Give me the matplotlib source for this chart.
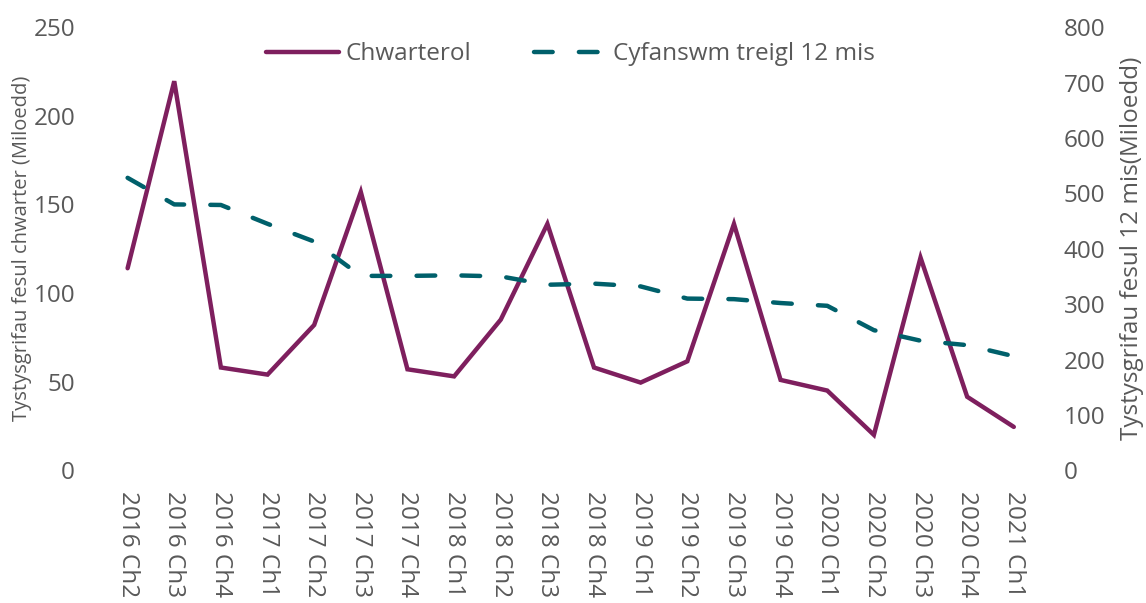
import matplotlib
matplotlib.use("Agg")
import matplotlib.pyplot as plt

quarters = ["2016 Ch2", "2016 Ch3", "2016 Ch4", "2017 Ch1", "2017 Ch2", "2017 Ch3",
            "2017 Ch4", "2018 Ch1", "2018 Ch2", "2018 Ch3", "2018 Ch4", "2019 Ch1",
            "2019 Ch2", "2019 Ch3", "2019 Ch4", "2020 Ch1", "2020 Ch2", "2020 Ch3",
            "2020 Ch4", "2021 Ch1"]
chwarterol = [114, 219.5, 58, 54, 82, 157, 57, 53, 85, 139, 58, 49.5,
              61.5, 139, 51, 45, 20, 120, 41.5, 24.5]
cyfanswm = [528, 480, 479, 445, 413, 351, 351, 352, 350, 335, 337, 332,
            310, 309, 302, 297, 253, 234, 226, 206]

purple = "#7E1F5E"
teal = "#00606B"
grey = "#595959"

plt.rcParams['font.family'] = ['Open Sans', 'DejaVu Sans']

fig, ax = plt.subplots(figsize=(11.46, 6.03), dpi=100)
fig.subplots_adjust(left=0.091, right=0.905, top=0.955, bottom=0.22)
ax2 = ax.twinx()

x = list(range(len(quarters)))
l1, = ax.plot(x, chwarterol, color=purple, lw=3.2, solid_joinstyle='miter',
              solid_capstyle='round', label="Chwarterol")
l2, = ax2.plot(x, cyfanswm, color=teal, lw=3.2, dashes=(4.2, 5.9),
               dash_capstyle='round', label="Cyfanswm treigl 12 mis")

ax.set_xlim(-0.5, len(quarters) - 0.5)
ax.set_ylim(0, 250)
ax2.set_ylim(0, 800)
ax.set_yticks(range(0, 251, 50))
ax2.set_yticks(range(0, 801, 100))
ax.set_xticks(x)
ax.set_xticklabels(quarters, rotation=270, fontsize=17.5, color=grey)

for a in (ax, ax2):
    for s in a.spines.values():
        s.set_visible(False)
    a.tick_params(length=0, labelsize=17.5, labelcolor=grey)
ax.tick_params(axis='y', pad=21)
ax2.tick_params(axis='y', pad=19)
ax.tick_params(axis='x', pad=15)

ax.set_ylabel("Tystysgrifau fesul chwarter (Miloedd)", fontsize=14.5, color=grey)
ax2.set_ylabel("Tystysgrifau fesul 12 mis(Miloedd)", fontsize=17.5, color=grey)
ax.yaxis.set_label_coords(-0.077, 0.5)
ax2.yaxis.set_label_coords(1.089, 0.5)

ax.legend(handles=[l1, l2], loc='upper center', bbox_to_anchor=(0.5, 1.015), ncol=2,
          frameon=False, fontsize=17.5, labelcolor=grey, handlelength=3.0,
          handletextpad=0.25, columnspacing=2.6)

fig.savefig("out.png", dpi=100)
